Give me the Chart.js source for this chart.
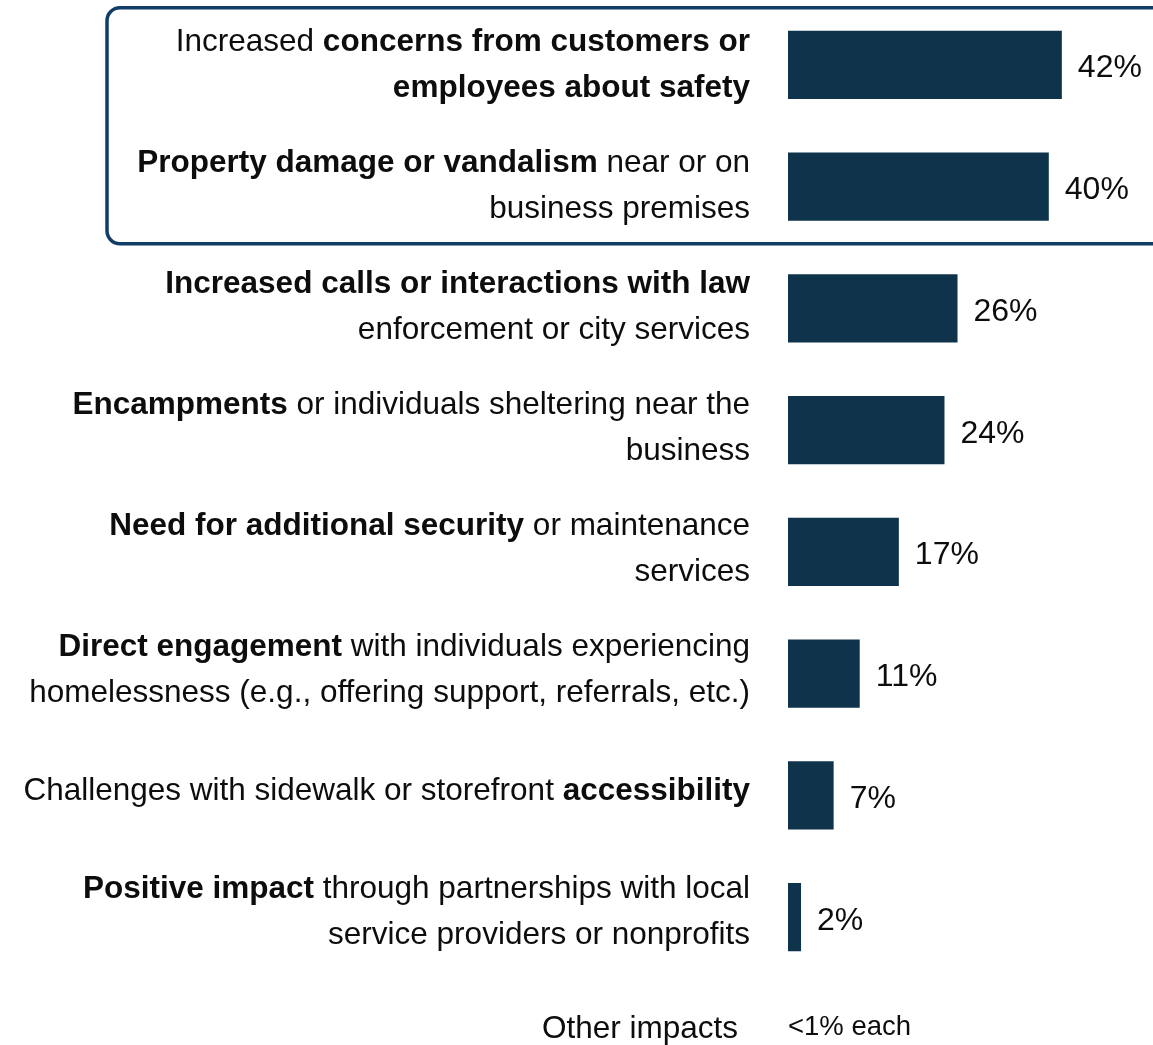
<!DOCTYPE html>
<html>
<head>
<meta charset="utf-8">
<script src="https://cdn.jsdelivr.net/npm/chart.js@4/dist/chart.umd.min.js"></script>
<style>
  html, body { margin: 0; padding: 0; background: #fff; }
</style>
</head>
<body>
<canvas id="impactChart" width="1153" height="1045"></canvas>
<script>
// Reported impacts, share of businesses (%)
var categories = [
  'Increased concerns from customers or employees about safety',
  'Property damage or vandalism near or on business premises',
  'Increased calls or interactions with law enforcement or city services',
  'Encampments or individuals sheltering near the business',
  'Need for additional security or maintenance services',
  'Direct engagement with individuals experiencing homelessness (e.g., offering support, referrals, etc.)',
  'Challenges with sidewalk or storefront accessibility',
  'Positive impact through partnerships with local service providers or nonprofits'
];

// label lines, **text** is set in bold
var labelLines = [
  ['Increased **concerns from customers or**', '**employees about safety**'],
  ['**Property damage or vandalism** near or on', 'business premises'],
  ['**Increased calls or interactions with law**', 'enforcement or city services'],
  ['**Encampments** or individuals sheltering near the', 'business'],
  ['**Need for additional security** or maintenance', 'services'],
  ['**Direct engagement** with individuals experiencing', 'homelessness (e.g., offering support, referrals, etc.)'],
  ['Challenges with sidewalk or storefront **accessibility**'],
  ['**Positive impact** through partnerships with local', 'service providers or nonprofits']
];

var values = [42, 40, 26, 24, 17, 11, 7, 2];

var otherLabel = 'Other impacts';
var otherValue = '<1% each';

var framedRows = 2;

var FONT = '"Liberation Sans", Arial, sans-serif';
var TEXT = '#0d0d0d';
var BAR = '#0e334b';
var FRAME = '#123d66';

function drawRich(ctx, line, xRight, y, size) {
  var parts = line.split('**');
  var total = 0;
  var fonts = parts.map(function(p, i) {
    var f = (i % 2 ? 'bold ' : '') + size + 'px ' + FONT;
    ctx.font = f;
    total += ctx.measureText(p).width;
    return f;
  });
  var x = xRight - total;
  parts.forEach(function(p, i) {
    ctx.font = fonts[i];
    ctx.fillText(p, x, y);
    x += ctx.measureText(p).width;
  });
}

var labelPlugin = {
  id: 'labelPlugin',
  afterDatasetsDraw: function(chart) {
    var ctx = chart.ctx;
    var bars = chart.getDatasetMeta(0).data;
    ctx.save();
    ctx.fillStyle = TEXT;
    ctx.textBaseline = 'alphabetic';
    ctx.textAlign = 'left';

    bars.forEach(function(bar, i) {
      var lines = labelLines[i];
      // text block runs on a slightly tighter pitch than the bars
      var y0 = bar.y - i * 0.8;
      if (lines.length === 1) {
        drawRich(ctx, lines[0], 750, y0 + 9, 31.5);
      } else {
        drawRich(ctx, lines[0], 750, y0 - 14, 31.5);
        drawRich(ctx, lines[1], 750, y0 + 32, 31.5);
      }
      ctx.font = '32px ' + FONT;
      ctx.fillText(values[i] + '%', bar.x + 16, bar.y + 12.5);
    });

    // remaining answers
    var yOther = chart.chartArea.bottom;
    ctx.font = '31.5px ' + FONT;
    ctx.textAlign = 'right';
    ctx.fillText(otherLabel, 738, yOther + 60);
    ctx.font = '27.5px ' + FONT;
    ctx.textAlign = 'left';
    ctx.fillText(otherValue, chart.chartArea.left, yOther + 57);

    // frame round the top rows
    var first = bars[0], last = bars[framedRows - 1];
    var top = first.y - first.height / 2 - 23;
    var bottom = last.y + last.height / 2 + 23;
    ctx.strokeStyle = FRAME;
    ctx.lineWidth = 3.5;
    ctx.beginPath();
    ctx.roundRect(107, top, chart.width + 20 - 107, bottom - top, 13);
    ctx.stroke();
    ctx.restore();
  }
};

var ctx = document.getElementById('impactChart').getContext('2d');
var impactChart = new Chart(ctx, {
  type: 'bar',
  data: {
    labels: categories,
    datasets: [{
      data: values,
      backgroundColor: BAR,
      borderWidth: 0,
      categoryPercentage: 1,
      barPercentage: 0.56
    }]
  },
  options: {
    indexAxis: 'y',
    responsive: false,
    animation: false,
    devicePixelRatio: 1,
    layout: {
      padding: { left: 788, right: 39, top: 4, bottom: 67 }
    },
    plugins: {
      legend: false,
      tooltip: false
    },
    scales: {
      x: { display: false, min: 0, max: 50 },
      y: { display: false }
    }
  },
  plugins: [labelPlugin]
});
</script>
</body>
</html>
